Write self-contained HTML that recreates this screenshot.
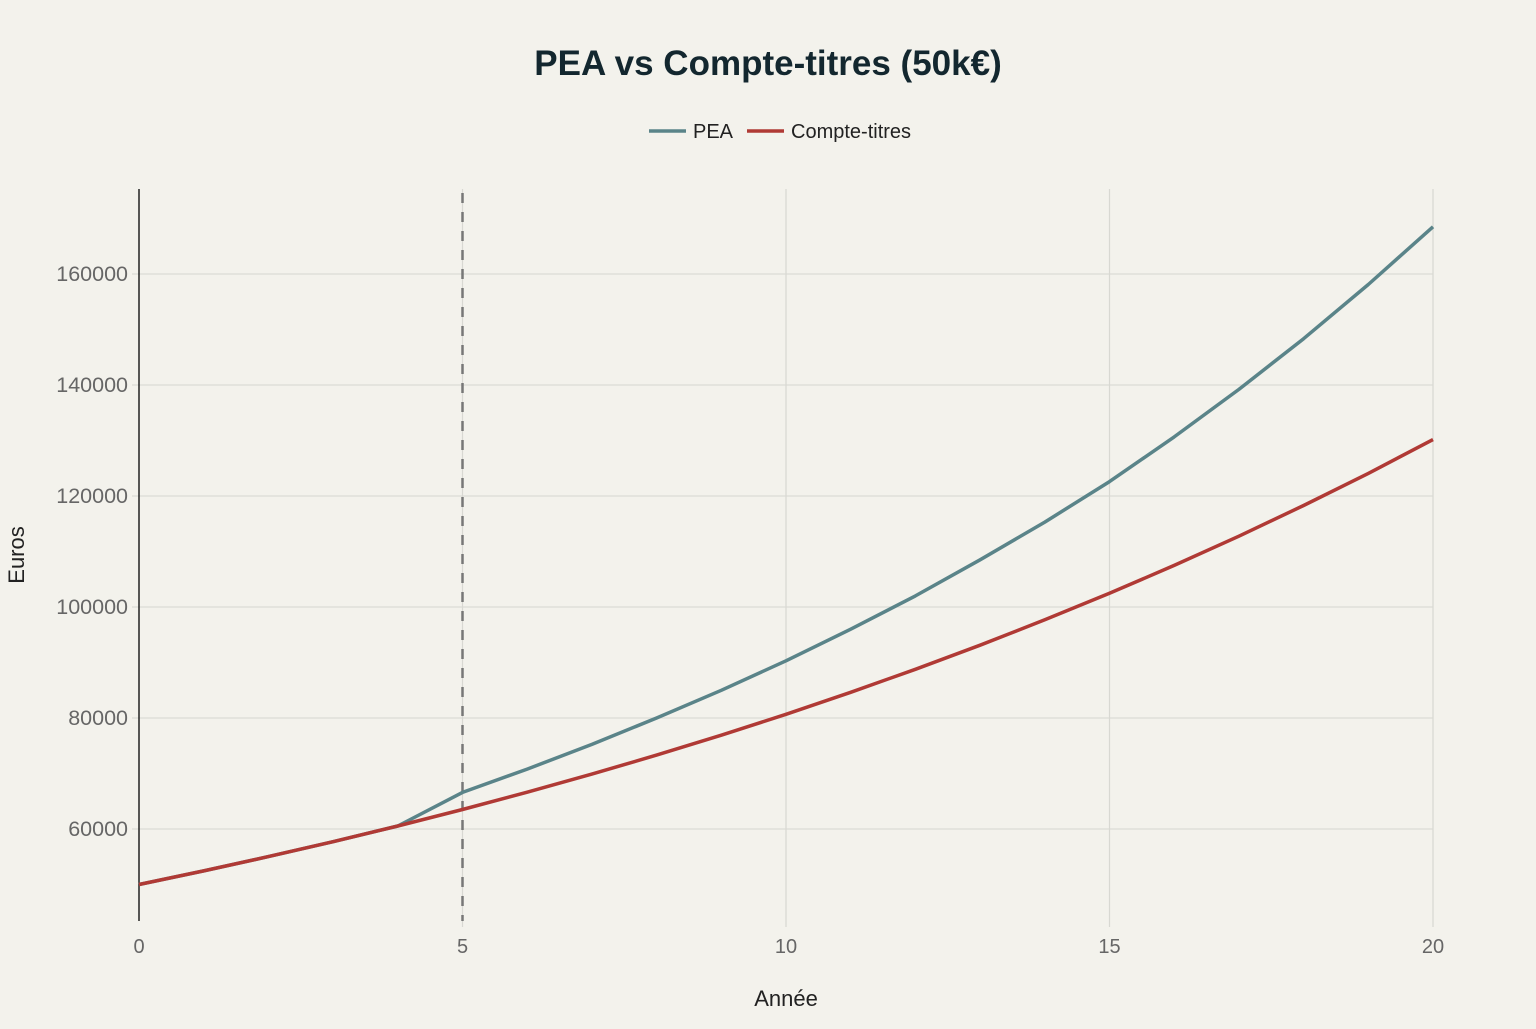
<!DOCTYPE html>
<html><head><meta charset="utf-8">
<style>
html,body{margin:0;padding:0;background:#f3f2ec;}
body{width:1536px;height:1024px;overflow:hidden;font-family:"Liberation Sans",sans-serif;}
</style></head>
<body>
<svg id="chart" width="1536" height="1024" xmlns="http://www.w3.org/2000/svg">
<rect width="1536" height="1024" fill="#f3f2ec"/>
<text x="768" y="75" text-anchor="middle" font-size="35" font-weight="bold" fill="#13272f">PEA vs Compte-titres (50k€)</text>
<g>
<line x1="649" y1="131" x2="686" y2="131" stroke="#5a8489" stroke-width="3.5"/>
<text x="693" y="138" font-size="20" fill="#222">PEA</text>
<line x1="747" y1="131" x2="784" y2="131" stroke="#b03a35" stroke-width="3.5"/>
<text x="791" y="138" font-size="20" fill="#222">Compte-titres</text>
</g>
<g id="grid"></g>
<g id="marks"></g>
<text transform="translate(24,555) rotate(-90)" text-anchor="middle" font-size="22" fill="#222">Euros</text>
<text x="786" y="1006" text-anchor="middle" font-size="22" fill="#222">Année</text>
</svg>
<script>
const years = [0,1,2,3,4,5,6,7,8,9,10,11,12,13,14,15,16,17,18,19,20];
const peaValues = [50000,52450,55020,57716,60544,66600,70800,75250,80000,85000,90300,96000,102000,108500,115300,122600,130650,139200,148350,158100,168500];
const ctValues = [50000,52450,55020,57716,60544,63511,66623,69887,73312,76904,80672,84625,88772,93122,97685,102471,107492,112759,118285,124081,130161];
const yTicks = [60000,80000,100000,120000,140000,160000];
const xTicks = [0,5,10,15,20];
const markerYear = 5;

const NS = "http://www.w3.org/2000/svg";
const X0 = 139, X1 = 1433, XMIN = 0, XMAX = 20;
const Y60 = 829, Y160 = 274;
const TOP = 189, BOTTOM = 921;
function xs(v){ return X0 + (v - XMIN) / (XMAX - XMIN) * (X1 - X0); }
function ys(v){ return Y60 - (v - 60000) / 100000 * (Y60 - Y160); }
function mk(tag, attrs, parent){
  const e = document.createElementNS(NS, tag);
  for (const k in attrs) e.setAttribute(k, attrs[k]);
  parent.appendChild(e);
  return e;
}
const grid = document.getElementById('grid');
const marks = document.getElementById('marks');

yTicks.forEach(t => {
  const l = mk('line', {x1: 132, x2: X1, y1: ys(t), y2: ys(t), stroke: '#dcdcd6', 'stroke-width': 1.2}, grid);
  
  
  const tx = mk('text', {x: 128, y: ys(t) + 7, 'text-anchor': 'end', 'font-size': 21.5, fill: '#666'}, grid);
  tx.textContent = t;
  
  
});
xTicks.forEach(t => {
  if (t !== 0) {
    const l = mk('line', {x1: xs(t), x2: xs(t), y1: TOP, y2: BOTTOM + 6, stroke: '#d8d8d2', 'stroke-width': 1.2}, grid);
    
    
  }
  const tx = mk('text', {x: xs(t), y: 953, 'text-anchor': 'middle', 'font-size': 20, fill: '#666'}, grid);
  tx.textContent = t;
  
  
});
const ax = mk('line', {x1: X0, x2: X0, y1: TOP, y2: BOTTOM, stroke: '#222', 'stroke-width': 1.5}, grid);



const vl = mk('line', {x1: xs(markerYear), x2: xs(markerYear), y1: 193, y2: BOTTOM, stroke: '#777', 'stroke-width': 2.5, 'stroke-dasharray': '10,9'}, marks);



function line(vals, color, name){
  const d = vals.map((v, i) => (i ? 'L' : 'M') + xs(years[i]).toFixed(1) + ',' + ys(v).toFixed(1)).join(' ');
  const p = mk('path', {d: d, fill: 'none', stroke: color, 'stroke-width': 3.5, 'stroke-linejoin': 'round'}, marks);
  
  
}
line(peaValues, '#5a8489', 'pea-line');
line(ctValues, '#b03a35', 'compte-titres-line');
</script>
</body></html>
